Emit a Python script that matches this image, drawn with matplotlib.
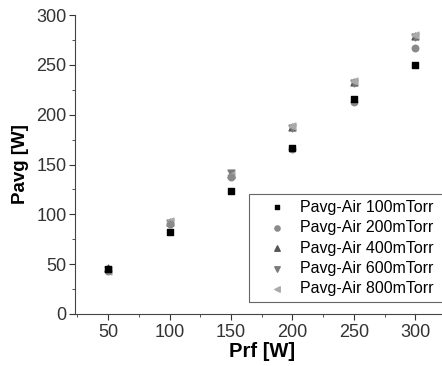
import matplotlib.pyplot as plt
from matplotlib.patches import Rectangle
from matplotlib.ticker import MultipleLocator

plt.rcParams['font.family'] = ['Liberation Sans', 'DejaVu Sans']

prf = [50, 100, 150, 200, 250, 300]
p100 = [45, 82, 123, 167, 216, 250]
p200 = [43, 90, 137, 166, 213, 267]
p400 = [46, 92, 140, 188, 233, 279]
p600 = [44, 91, 141, 187, 232, 278]
p800 = [43, 93, 139, 189, 234, 280]

labels = ['Pavg-Air 100mTorr', 'Pavg-Air 200mTorr', 'Pavg-Air 400mTorr',
          'Pavg-Air 600mTorr', 'Pavg-Air 800mTorr']

fig = plt.figure(figsize=(4.42, 3.66), dpi=100)
# axes run past the right edge, the original picture is cropped there
ax = fig.add_axes([75 / 442, 52 / 366, 395 / 442, 299 / 366])

ax.scatter(prf, p100, marker='s', s=20, color='black', label=labels[0], zorder=5)
ax.scatter(prf, p200, marker='o', s=22, color='#8a8a8a', label=labels[1], zorder=4)
ax.scatter(prf, p400, marker='^', s=24, color='#555555', label=labels[2], zorder=3)
ax.scatter(prf, p600, marker='v', s=24, color='#7a7a7a', label=labels[3], zorder=3)
ax.scatter(prf, p800, marker='<', s=24, color='#aaaaaa', label=labels[4], zorder=3)

ax.set_xlim(23, 344.5)
ax.set_ylim(0, 300)
ax.xaxis.set_major_locator(MultipleLocator(50))
ax.xaxis.set_minor_locator(MultipleLocator(25))
ax.yaxis.set_major_locator(MultipleLocator(50))
ax.yaxis.set_minor_locator(MultipleLocator(25))
ax.set_xticks([50, 100, 150, 200, 250, 300])
ax.tick_params(which='major', direction='out', length=4, labelsize=13, colors='#333333')
ax.tick_params(which='minor', direction='out', length=2, colors='#333333')
ax.tick_params(axis='y', pad=2)

ax.spines['top'].set_visible(False)
ax.spines['right'].set_visible(False)
ax.spines['left'].set_color('#444444')
ax.spines['bottom'].set_color('#444444')

ax.set_xlabel('Prf [W]', fontsize=14.5, fontweight='bold', labelpad=1)
ax.xaxis.set_label_coords((262 - 75) / 395, -0.095)
ax.set_ylabel('Pavg [W]', fontsize=13.5, fontweight='bold', labelpad=5)

leg = ax.legend(loc='upper left', bbox_to_anchor=(0.4405, 0.401), borderaxespad=0,
                fontsize=11.5, frameon=False,
                handletextpad=0.1, labelspacing=0.34, borderpad=0.35,
                handlelength=2.75, markerscale=0.8)

# open-ended frame: the legend box is cut by the right edge of the picture
fig.canvas.draw()
bb = leg.get_window_extent()
frame = Rectangle((bb.x0, bb.y0), 400, bb.height, transform=None,
                  fill=False, edgecolor='#666666', linewidth=0.8, zorder=6)
fig.add_artist(frame)

fig.savefig('out.png', dpi=100)
